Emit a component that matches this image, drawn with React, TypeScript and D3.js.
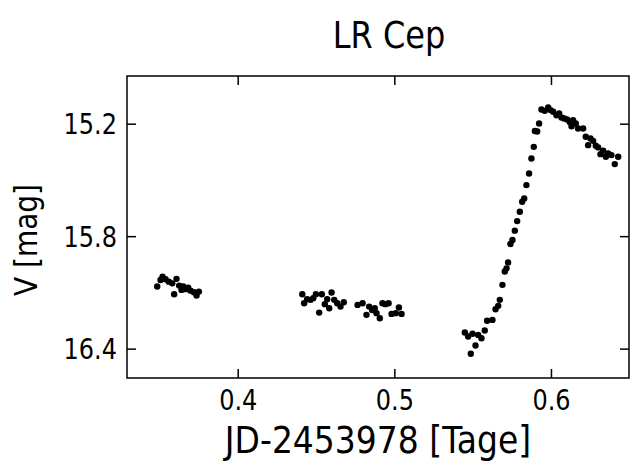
import React from 'react';
import * as d3 from 'd3';

// JD-2453978 (days) and V magnitude
const jd = [
  0.3483, 0.3504, 0.3517, 0.3536, 0.3557, 0.3579, 0.3591, 0.3606, 0.3623, 0.3638, 0.3649, 0.3664, 0.3681, 0.3696, 0.3717, 0.3734, 0.3749,
  0.4409, 0.4421, 0.4440, 0.4462, 0.4479, 0.4496, 0.4517, 0.4534, 0.4553, 0.4568, 0.4581, 0.4596, 0.4613, 0.4632, 0.4653, 0.4674,
  0.4762, 0.4794, 0.4819, 0.4836, 0.4855, 0.4872, 0.4883, 0.4904, 0.4921, 0.4940, 0.4960, 0.4979, 0.5006, 0.5026, 0.5043,
  0.5447, 0.5468, 0.5485, 0.5496, 0.5515, 0.5532, 0.5553, 0.5574, 0.5589, 0.5623, 0.5643, 0.5660, 0.5670, 0.5687, 0.5702, 0.5713,
  0.5723, 0.5738, 0.5751, 0.5766, 0.5781, 0.5798, 0.5813, 0.5826, 0.5840, 0.5857, 0.5872, 0.5887, 0.5894, 0.5909, 0.5921,
  0.5936, 0.5957, 0.5979, 0.5994, 0.6011, 0.6032, 0.6049, 0.6064, 0.6081, 0.6100, 0.6117, 0.6128, 0.6138, 0.6155, 0.6170,
  0.6202, 0.6219, 0.6234, 0.6249, 0.6266, 0.6283, 0.6298, 0.6313, 0.6330, 0.6347, 0.6362, 0.6383, 0.6404, 0.6426,
];
const vmag = [
  16.066, 16.031, 16.013, 16.027, 16.040, 16.049, 16.107, 16.025, 16.061, 16.084, 16.066, 16.080, 16.072, 16.088, 16.096, 16.114, 16.093,
  16.107, 16.155, 16.134, 16.137, 16.128, 16.107, 16.205, 16.107, 16.160, 16.134, 16.182, 16.098, 16.137, 16.155, 16.173, 16.150,
  16.164, 16.155, 16.217, 16.173, 16.191, 16.182, 16.208, 16.235, 16.155, 16.160, 16.155, 16.212, 16.208, 16.178, 16.212,
  16.311, 16.333, 16.425, 16.318, 16.381, 16.324, 16.342, 16.301, 16.249, 16.244, 16.187, 16.169, 16.137, 16.057, 15.986, 15.969,
  15.938, 15.839, 15.818, 15.768, 15.717, 15.667, 15.614, 15.596, 15.525, 15.463, 15.383, 15.321, 15.236, 15.239, 15.196,
  15.122, 15.129, 15.111, 15.125, 15.134, 15.152, 15.143, 15.164, 15.170, 15.175, 15.188, 15.211, 15.179, 15.196, 15.223,
  15.223, 15.267, 15.312, 15.276, 15.289, 15.315, 15.324, 15.360, 15.342, 15.374, 15.356, 15.365, 15.413, 15.374,
];
const xTicks = [0.4, 0.5, 0.6];
const yTicks = [15.2, 15.8, 16.4];

const W = 630;
const H = 464;
const margin = { top: 76, right: 1, bottom: 86, left: 127 };
const font = 'DejaVu Sans';
const stretch = 1.15; // glyphs in the picture are a little taller than normal

export default function App() {
  const x = d3.scaleLinear().domain([0.329, 0.6495]).range([margin.left, W - margin.right]);
  const y = d3.scaleLinear().domain([14.943, 16.554]).range([margin.top, H - margin.bottom]);
  const [x0, x1] = x.range();
  const [y0, y1] = y.range();
  const tick = 9;

  const label = (tx: number, ty: number, s: string, size: number, anchor = 'middle', rot = false) => (
    <text
      transform={`translate(${tx},${ty})${rot ? ' rotate(-90)' : ''} scale(1,${stretch})`}
      fontFamily={font}
      fontSize={size}
      textAnchor={anchor}
      fill="#000"
    >{s}</text>
  );

  return (
    <svg width={W} height={H} style={{ position: 'absolute', left: 0, top: 0, background: '#fff' }}>
      <rect width={W} height={H} fill="#fff" />
      {label(389, 48, 'LR Cep', 32)}

      {jd.map((d, i) => (
        <circle key={i} cx={x(d)} cy={y(vmag[i])} r={3.2} fill="#000" />
      ))}

      <rect x={x0} y={y0} width={x1 - x0} height={y1 - y0} fill="none" stroke="#000" strokeWidth={1.5} />

      {xTicks.map((t) => (
        <g key={t}>
          <line x1={x(t)} x2={x(t)} y1={y1} y2={y1 - tick} stroke="#000" strokeWidth={1.5} />
          <line x1={x(t)} x2={x(t)} y1={y0} y2={y0 + tick} stroke="#000" strokeWidth={1.5} />
          {label(x(t), 410, String(t), 24)}
        </g>
      ))}
      {yTicks.map((t) => (
        <g key={t}>
          <line x1={x0} x2={x0 + tick} y1={y(t)} y2={y(t)} stroke="#000" strokeWidth={1.5} />
          <line x1={x1} x2={x1 - tick} y1={y(t)} y2={y(t)} stroke="#000" strokeWidth={1.5} />
          {label(117, y(t) + 10, t.toFixed(1), 24, 'end')}
        </g>
      ))}

      {label(378, 453, 'JD-2453978 [Tage]', 33)}
      {label(37, 240, 'V [mag]', 28, 'middle', true)}
    </svg>
  );
}
